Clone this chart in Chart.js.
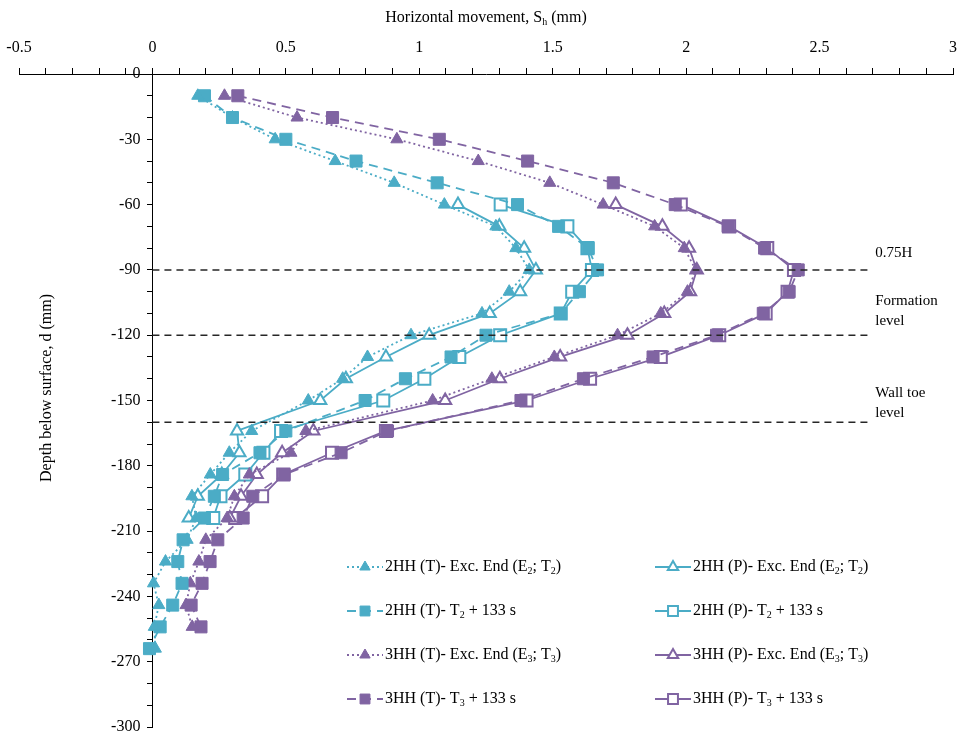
<!DOCTYPE html>
<html>
<head>
<meta charset="utf-8">
<script src="https://cdn.jsdelivr.net/npm/chart.js@4/dist/chart.umd.min.js"></script>
<style>
html, body { margin: 0; padding: 0; background: #fff; }
#wrap { width: 957px; height: 738px; position: relative; }
</style>
</head>
<body>
<div id="wrap"><canvas id="chart"></canvas></div>
<script>
/* Profundidades (mm) de cada serie */
const depths2T = [-10, -20, -30, -40, -50, -60, -70, -80, -90, -100, -110, -120, -130, -140, -150,
                  -164, -174, -184, -194, -204, -214, -224, -234, -244, -254, -264];
const depths3T = [-10, -20, -30, -40, -50, -60, -70, -80, -90, -100, -110, -120, -130, -140, -150,
                  -164, -174, -184, -194, -204, -214, -224, -234, -244, -254];
const depthsP = [-60, -70, -80, -90, -100, -110, -120, -130, -140, -150, -164, -174, -184, -194, -204];

/* Movimiento horizontal (mm) */
const hh2T_exc = [0.17, 0.30, 0.46, 0.685, 0.906, 1.094, 1.287, 1.362, 1.412, 1.337, 1.235, 0.969, 0.806, 0.713, 0.584,
                  0.372, 0.288, 0.217, 0.148, 0.164, 0.13, 0.049, 0.004, 0.024, 0.007, 0.011];
const hh2T_133 = [0.195, 0.30, 0.50, 0.763, 1.067, 1.368, 1.522, 1.633, 1.668, 1.60, 1.53, 1.25, 1.119, 0.948, 0.797,
                  0.50, 0.403, 0.263, 0.232, 0.195, 0.115, 0.095, 0.111, 0.076, 0.029, -0.011];
const hh3T_exc = [0.27, 0.542, 0.916, 1.221, 1.489, 1.689, 1.882, 1.993, 2.036, 2.005, 1.905, 1.743, 1.506, 1.272, 1.05,
                  0.575, 0.519, 0.363, 0.307, 0.28, 0.20, 0.174, 0.142, 0.126, 0.149];
const hh3T_133 = [0.32, 0.675, 1.075, 1.406, 1.727, 1.959, 2.157, 2.294, 2.42, 2.386, 2.289, 2.114, 1.876, 1.615, 1.381,
                  0.881, 0.707, 0.494, 0.376, 0.34, 0.245, 0.216, 0.186, 0.145, 0.182];
const hh2P_exc = [1.145, 1.30, 1.393, 1.437, 1.378, 1.264, 1.037, 0.875, 0.725, 0.629, 0.317, 0.326, 0.26, 0.17, 0.136];
const hh2P_133 = [1.305, 1.555, 1.63, 1.647, 1.573, 1.53, 1.303, 1.15, 1.019, 0.865, 0.482, 0.416, 0.348, 0.255, 0.228];
const hh3P_exc = [1.736, 1.911, 2.011, 2.04, 2.015, 1.918, 1.78, 1.528, 1.302, 1.097, 0.603, 0.486, 0.391, 0.332, 0.29];
const hh3P_133 = [1.98, 2.161, 2.304, 2.404, 2.38, 2.298, 2.124, 1.905, 1.64, 1.402, 0.875, 0.673, 0.49, 0.411, 0.31];

/* Etiquetas (el "_" marca subíndice) */
const labels = [
    '2HH (T)- Exc. End (E_2; T_2)',
    '2HH (T)- T_2 + 133 s',
    '3HH (T)- Exc. End (E_3; T_3)',
    '3HH (T)- T_3 + 133 s',
    '2HH (P)- Exc. End (E_2; T_2)',
    '2HH (P)- T_2 + 133 s',
    '3HH (P)- Exc. End (E_3; T_3)',
    '3HH (P)- T_3 + 133 s'
];

/* Líneas de referencia */
const refDepths = [-90, -120, -160];
const refLabels = [['0.75H'], ['Formation', 'level'], ['Wall toe', 'level']];
const refEndX = 2.69;

const xTitle = 'Horizontal movement, S_h (mm)';
const yTitle = 'Depth below surface, d (mm)';

const TEAL = '#4BACC6', PURPLE = '#8064A2';
const FONT = '"Liberation Serif", "Times New Roman", serif';

function serie(label, xs, ys, color, dash, style, open) {
    return {
        label: label,
        data: xs.map((v, i) => ({x: v, y: ys[i]})),
        showLine: true,
        borderColor: color,
        borderWidth: 1.8,
        borderDash: dash,
        pointStyle: style,
        pointRadius: style === 'rect' ? 8.5 : 7,
        pointHoverRadius: style === 'rect' ? 8.5 : 7,
        pointBackgroundColor: open ? '#fff' : color,
        pointBorderColor: color,
        pointBorderWidth: open ? 2 : 1,
        tension: 0
    };
}

const DOT = [2, 3], DASH = [9, 6], SOLID = [];

const datasets = [
    serie(labels[0], hh2T_exc, depths2T, TEAL, DOT, 'triangle', false),
    serie(labels[1], hh2T_133, depths2T, TEAL, DASH, 'rect', false),
    serie(labels[2], hh3T_exc, depths3T, PURPLE, DOT, 'triangle', false),
    serie(labels[3], hh3T_133, depths3T, PURPLE, DASH, 'rect', false),
    serie(labels[4], hh2P_exc, depthsP, TEAL, SOLID, 'triangle', true),
    serie(labels[5], hh2P_133, depthsP, TEAL, SOLID, 'rect', true),
    serie(labels[6], hh3P_exc, depthsP, PURPLE, SOLID, 'triangle', true),
    serie(labels[7], hh3P_133, depthsP, PURPLE, SOLID, 'rect', true)
];

/* Texto con subíndices */
function drawRich(ctx, text, x, y, size, align) {
    const parts = [];
    for (let i = 0; i < text.length; i++) {
        if (text[i] === '_' && i + 1 < text.length) {
            parts.push({t: text[i + 1], sub: true});
            i++;
        } else {
            if (parts.length && !parts[parts.length - 1].sub) parts[parts.length - 1].t += text[i];
            else parts.push({t: text[i], sub: false});
        }
    }
    const subSize = Math.round(size * 0.65);
    let total = 0;
    parts.forEach(p => {
        ctx.font = (p.sub ? subSize : size) + 'px ' + FONT;
        p.w = ctx.measureText(p.t).width;
        total += p.w;
    });
    let cx = align === 'center' ? x - total / 2 : x;
    ctx.textAlign = 'left';
    ctx.textBaseline = 'middle';
    parts.forEach(p => {
        ctx.font = (p.sub ? subSize : size) + 'px ' + FONT;
        ctx.fillText(p.t, cx, p.sub ? y + size * 0.3 : y);
        cx += p.w;
    });
}

const extras = {
    id: 'extras',
    afterDatasetsDraw(chart) {
        const ctx = chart.ctx;
        const xs = chart.scales.x, ys = chart.scales.y;
        const x0 = xs.getPixelForValue(0);
        ctx.save();
        // etiquetas del eje y (junto al eje en x = 0)
        ctx.fillStyle = '#000';
        ctx.font = '16px ' + FONT;
        ctx.textAlign = 'right';
        ctx.textBaseline = 'middle';
        ys.ticks.forEach(t => {
            if (t.value % 30 === 0) ctx.fillText(String(t.value), x0 - 12, ys.getPixelForValue(t.value));
        });
        // título eje y
        ctx.save();
        ctx.translate(47, 388);
        ctx.rotate(-Math.PI / 2);
        ctx.textAlign = 'center';
        ctx.fillText(yTitle, 0, 0);
        ctx.restore();
        // líneas de referencia
        const lift = [17, 14, 9];
        ctx.strokeStyle = '#262626';
        ctx.lineWidth = 1.5;
        ctx.setLineDash([7, 5]);
        refDepths.forEach((d, i) => {
            const py = ys.getPixelForValue(d);
            ctx.beginPath();
            ctx.moveTo(x0, py);
            ctx.lineTo(xs.getPixelForValue(refEndX), py);
            ctx.stroke();
            ctx.fillStyle = '#000';
            ctx.font = '15px ' + FONT;
            ctx.textAlign = 'left';
            ctx.textBaseline = 'middle';
            const lines = refLabels[i];
            lines.forEach((t, k) => {
                ctx.fillText(t, xs.getPixelForValue(refEndX) + 5, py - lift[i] - (lines.length - 1 - k) * 20);
            });
        });
        ctx.setLineDash([]);
        // leyenda
        const colX = [347, 655];
        chart.data.datasets.forEach((ds, i) => {
            const col = Math.floor(i / 4), row = i % 4;
            const lx = colX[col], ly = 567 + row * 44;
            ctx.strokeStyle = ds.borderColor;
            ctx.lineWidth = ds.borderWidth;
            ctx.setLineDash(ds.borderDash);
            ctx.beginPath();
            ctx.moveTo(lx, ly);
            ctx.lineTo(lx + 36, ly);
            ctx.stroke();
            ctx.setLineDash([]);
            ctx.fillStyle = ds.pointBackgroundColor;
            ctx.strokeStyle = ds.pointBorderColor;
            ctx.lineWidth = ds.pointBorderWidth;
            Chart.helpers.drawPoint(ctx, {
                pointStyle: ds.pointStyle,
                radius: ds.pointStyle === 'rect' ? 7 : 6,
                borderWidth: ds.pointBorderWidth,
                rotation: 0
            }, lx + 18, ly);
            ctx.fillStyle = '#000';
            drawRich(ctx, ds.label, lx + 38, ly, 16, 'left');
        });
        // título eje x
        ctx.fillStyle = '#000';
        drawRich(ctx, xTitle, (chart.chartArea.left + chart.chartArea.right) / 2, 18, 16, 'center');
        ctx.restore();
    }
};

const ctx = document.querySelector('#chart').getContext('2d');
new Chart(ctx, {
    type: 'scatter',
    data: { datasets: datasets },
    options: {
        responsive: true,
        maintainAspectRatio: false,
        animation: false,
        events: [],
        layout: { autoPadding: false, padding: { top: 28, left: 19, right: 3, bottom: 11 } },
        plugins: {
            legend: { display: false },
            tooltip: { enabled: false }
        },
        scales: {
            x: {
                type: 'linear',
                position: 'top',
                min: -0.5,
                max: 3,
                grid: { drawOnChartArea: false, drawTicks: true, tickLength: 6, color: '#000' },
                border: { display: true, color: '#000', width: 1 },
                ticks: {
                    stepSize: 0.1,
                    autoSkip: false,
                    maxRotation: 0,
                    padding: 0,
                    color: '#000',
                    font: { family: FONT, size: 16, lineHeight: 2.5 },
                    callback: v => Math.abs(v * 2 - Math.round(v * 2)) < 1e-6 ? String(Math.round(v * 2) / 2) : ''
                }
            },
            y: {
                type: 'linear',
                position: { x: 0 },
                min: -300,
                max: 0,
                grid: { drawOnChartArea: false, drawTicks: true, tickLength: 5, color: '#000' },
                border: { display: true, color: '#000', width: 1 },
                ticks: {
                    stepSize: 10,
                    autoSkip: false,
                    display: false
                }
            }
        }
    },
    plugins: [extras]
});
</script>
</body>
</html>
